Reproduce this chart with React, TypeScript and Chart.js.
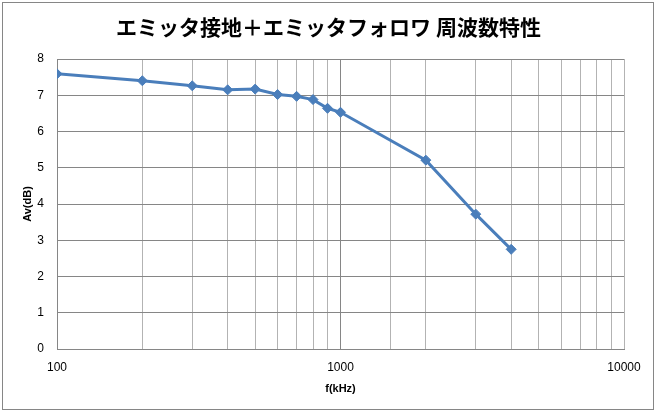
import React, { useEffect, useRef } from "react";
import { Chart, registerables } from "chart.js";

Chart.register(...registerables);

const titleText = "エミッタ接地＋エミッタフォロワ 周波数特性";
const xTitle = "f(kHz)";
const yTitle = "Av(dB)";
const freqs = [100, 200, 300, 400, 500, 600, 700, 800, 900, 1000, 2000, 3000, 4000];
const gains = [7.59, 7.4, 7.26, 7.15, 7.17, 7.02, 6.97, 6.88, 6.64, 6.53, 5.21, 3.72, 2.75];
const xLabels = [100, 1000, 10000];

const borderPlugin = {
  id: "outerBorder",
  beforeDraw(chart: any) {
    const ctx = chart.ctx;
    ctx.save();
    ctx.fillStyle = "#ffffff";
    ctx.fillRect(0, 0, chart.width, chart.height);
    ctx.strokeStyle = "#868686";
    ctx.lineWidth = 1;
    ctx.strokeRect(2.5, 2.5, 651, 407);
    ctx.restore();
  },
};

export default function App() {
  const ref = useRef<HTMLCanvasElement>(null);
  useEffect(() => {
    document.body.style.margin = "0";
    const chart = new Chart(ref.current!, {
      type: "line",
      data: {
        datasets: [
          {
            data: freqs.map((f, i) => ({ x: f, y: gains[i] })),
            borderColor: "#4a7ebb",
            backgroundColor: "#4a7ebb",
            borderWidth: 3,
            pointStyle: "rectRot",
            pointRadius: 5,
            pointBorderWidth: 1,
            tension: 0,
          },
        ],
      },
      options: {
        animation: false,
        responsive: false,
        layout: { padding: { left: 0, right: 0, top: 0, bottom: 0 } },
        plugins: {
          legend: { display: false },
          tooltip: { enabled: false },
          title: {
            display: true,
            text: titleText,
            color: "#000",
            font: { family: "'Noto Sans CJK JP'", size: 21, weight: "bold", lineHeight: 1.2 },
            padding: { top: 14, bottom: 19.8 },
          },
        },
        scales: {
          x: {
            type: "logarithmic",
            min: 100,
            max: 10000,
            afterFit(scale: any) {
              scale.height = 64;
            },
            border: { display: true, color: "#868686", width: 1 },
            grid: {
              color: (ctx: any) => {
                const v = ctx.tick && ctx.tick.value;
                if (v === 1000 || v === 100) return "#868686";
                return "#b3b3b3";
              },
              lineWidth: 1,
              drawTicks: false,
            },
            ticks: {
              autoSkip: false,
              maxRotation: 0,
              padding: 11,
              color: "#000",
              font: { family: "'Liberation Sans'", size: 12 },
              callback: (v: any) => (xLabels.includes(Number(v)) ? String(v) : ""),
            },
            title: {
              display: true,
              text: xTitle,
              color: "#000",
              font: { family: "'Liberation Sans'", size: 11, weight: "bold", lineHeight: 1.2 },
              padding: { top: 0, bottom: 17 },
            },
          },
          y: {
            min: 0,
            max: 8,
            afterFit(scale: any) {
              scale.width = 57;
            },
            border: { display: true, color: "#868686", width: 1 },
            grid: { color: "#868686", lineWidth: 1, drawTicks: false },
            ticks: {
              stepSize: 1,
              padding: 13,
              color: "#000",
              font: { family: "'Liberation Sans'", size: 12 },
            },
            title: {
              display: true,
              text: yTitle,
              color: "#000",
              font: { family: "'Liberation Sans'", size: 11, weight: "bold", lineHeight: 1.2 },
              padding: { top: 21, bottom: 0 },
            },
          },
          yRight: {
            position: "right",
            min: 0,
            max: 8,
            afterFit(scale: any) {
              scale.width = 33;
            },
            border: { display: false },
            grid: { display: false, drawTicks: false },
            ticks: { display: false },
          },
        },
      },
      plugins: [borderPlugin],
    } as any);
    return () => chart.destroy();
  }, []);
  return (
    <div style={{ position: "absolute", left: 0, top: 0, width: 657, height: 413 }}>
      <canvas ref={ref} width={657} height={413} style={{ width: 657, height: 413, display: "block" }} />
    </div>
  );
}
